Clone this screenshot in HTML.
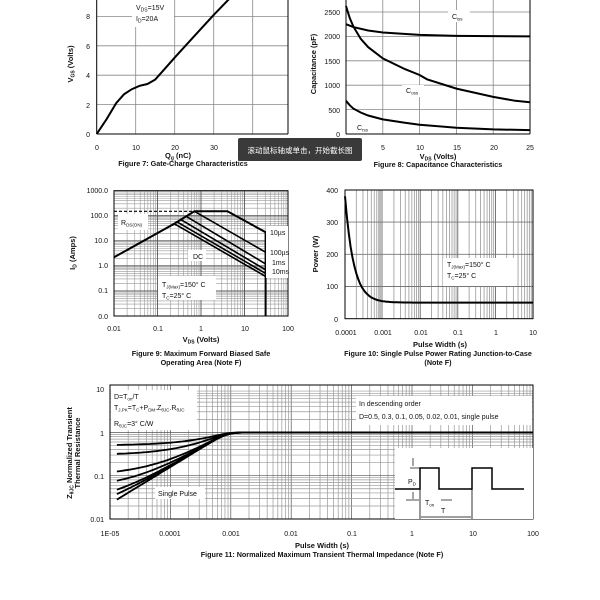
<!DOCTYPE html>
<html><head><meta charset="utf-8"><style>
html,body{margin:0;padding:0;background:#fff;width:600px;height:600px;overflow:hidden}
svg{display:block}
text{font-family:"Liberation Sans",Arial,sans-serif;fill:#111}
.t{font-size:7px}
.c{font-size:7.2px;font-weight:bold}
.al{font-size:7.5px;font-weight:bold}
</style></head><body>
<svg id="s" width="600" height="600" viewBox="0 0 600 600" xmlns="http://www.w3.org/2000/svg">
<g id="grid"></g>
<g id="curves" fill="none" stroke="#000" stroke-width="2"></g>

<!-- Fig 7 texts -->
<rect x="132" y="0" width="42" height="27" fill="#fff"/>
<text class="t" x="136" y="10">V<tspan font-size="5" dy="1.5">DS</tspan><tspan dy="-1.5">=15V</tspan></text>
<text class="t" x="136" y="21">I<tspan font-size="5" dy="1.5">D</tspan><tspan dy="-1.5">=20A</tspan></text>
<g class="t" text-anchor="end">
<text x="90" y="137">0</text><text x="90" y="108">2</text><text x="90" y="78">4</text><text x="90" y="49">6</text><text x="90" y="19">8</text>
</g>
<g class="t" text-anchor="middle">
<text x="97" y="150">0</text><text x="136" y="150">10</text><text x="175" y="150">20</text><text x="214" y="150">30</text>
</g>
<text class="al" x="178" y="158" text-anchor="middle">Q<tspan font-size="5" dy="1.5">g</tspan><tspan dy="-1.5"> (nC)</tspan></text>
<text class="c" x="183" y="166" text-anchor="middle">Figure 7: Gate-Charge Characteristics</text>
<text class="al" transform="translate(73,64) rotate(-90)" text-anchor="middle">V<tspan font-size="5" dy="1.5">GS</tspan><tspan dy="-1.5"> (Volts)</tspan></text>

<!-- Fig 8 texts -->
<rect x="448" y="10" width="22" height="12" fill="#fff"/>
<text class="t" x="452" y="19">C<tspan font-size="4.5" dy="1.5">iss</tspan></text>
<rect x="402" y="85" width="22" height="12" fill="#fff"/>
<text class="t" x="406" y="93">C<tspan font-size="4.5" dy="1.5">oss</tspan></text>
<text class="t" x="357" y="130">C<tspan font-size="4.5" dy="1.5">rss</tspan></text>
<g class="t" text-anchor="end">
<text x="340" y="137">0</text><text x="340" y="113">500</text><text x="340" y="88">1000</text><text x="340" y="64">1500</text><text x="340" y="39">2000</text><text x="340" y="15">2500</text>
</g>
<g class="t" text-anchor="middle">
<text x="383" y="150">5</text><text x="420" y="150">10</text><text x="457" y="150">15</text><text x="494" y="150">20</text><text x="530" y="150">25</text>
</g>
<text class="al" x="438" y="159" text-anchor="middle">V<tspan font-size="5" dy="1.5">DS</tspan><tspan dy="-1.5"> (Volts)</tspan></text>
<text class="c" x="438" y="167" text-anchor="middle">Figure 8: Capacitance Characteristics</text>
<text class="al" transform="translate(316,64) rotate(-90)" text-anchor="middle">Capacitance (pF)</text>

<!-- tooltip -->
<rect x="238" y="138" width="124" height="23" rx="2" fill="#3a3a3a"/>
<text x="300" y="153" text-anchor="middle" style="font-size:7.5px;fill:#fff;font-family:'Liberation Sans','Noto Sans CJK SC',sans-serif">滚动鼠标轴或单击，开始截长图</text>

<!-- Fig 9 texts -->
<rect x="118" y="214" width="30" height="16" fill="#fff"/>
<text class="t" x="121" y="225">R<tspan font-size="4.5" dy="1.5">DS(ON)</tspan></text>
<rect x="266" y="226" width="22" height="52" fill="#fff"/>
<text class="t" x="270" y="235">10µs</text>
<text class="t" x="270" y="255">100µs</text>
<text class="t" x="272" y="265">1ms</text>
<text class="t" x="272" y="274">10ms</text>
<rect x="188" y="250" width="18" height="11" fill="#fff"/>
<text class="t" x="193" y="259">DC</text>
<rect x="158" y="276" width="58" height="24" fill="#fff"/>
<text class="t" x="162" y="287">T<tspan font-size="4.5" dy="1.5">J(Max)</tspan><tspan dy="-1.5">=150° C</tspan></text>
<text class="t" x="162" y="298">T<tspan font-size="4.5" dy="1.5">C</tspan><tspan dy="-1.5">=25° C</tspan></text>
<g class="t" text-anchor="end">
<text x="108" y="193">1000.0</text><text x="108" y="218">100.0</text><text x="108" y="243">10.0</text><text x="108" y="268">1.0</text><text x="108" y="293">0.1</text><text x="108" y="319">0.0</text>
</g>
<g class="t" text-anchor="middle">
<text x="114" y="331">0.01</text><text x="158" y="331">0.1</text><text x="201" y="331">1</text><text x="245" y="331">10</text><text x="288" y="331">100</text>
</g>
<text class="al" x="201" y="342" text-anchor="middle">V<tspan font-size="5" dy="1.5">DS</tspan><tspan dy="-1.5"> (Volts)</tspan></text>
<text class="c" x="201" y="356" text-anchor="middle">Figure 9: Maximum Forward Biased Safe</text>
<text class="c" x="201" y="365" text-anchor="middle">Operating Area (Note F)</text>
<text class="al" transform="translate(75,253) rotate(-90)" text-anchor="middle">I<tspan font-size="5" dy="1.5">D</tspan><tspan dy="-1.5"> (Amps)</tspan></text>

<!-- Fig 10 texts -->
<rect x="443" y="258" width="72" height="28" fill="#fff"/>
<text class="t" x="447" y="267">T<tspan font-size="4.5" dy="1.5">J(Max)</tspan><tspan dy="-1.5">=150° C</tspan></text>
<text class="t" x="447" y="278">T<tspan font-size="4.5" dy="1.5">C</tspan><tspan dy="-1.5">=25° C</tspan></text>
<g class="t" text-anchor="end">
<text x="338" y="193">400</text><text x="338" y="225">300</text><text x="338" y="257">200</text><text x="338" y="289">100</text><text x="338" y="322">0</text>
</g>
<g class="t" text-anchor="middle">
<text x="346" y="335">0.0001</text><text x="383" y="335">0.001</text><text x="421" y="335">0.01</text><text x="458" y="335">0.1</text><text x="496" y="335">1</text><text x="533" y="335">10</text>
</g>
<text class="al" x="440" y="347" text-anchor="middle">Pulse Width (s)</text>
<text class="c" x="438" y="356" text-anchor="middle">Figure 10: Single Pulse Power Rating Junction-to-Case</text>
<text class="c" x="438" y="365" text-anchor="middle">(Note F)</text>
<text class="al" transform="translate(318,254) rotate(-90)" text-anchor="middle">Power (W)</text>

<!-- Fig 11 texts -->
<rect x="111" y="390" width="86" height="40" fill="#fff"/>
<text class="t" x="114" y="399">D=T<tspan font-size="4.5" dy="1.5">on</tspan><tspan dy="-1.5">/T</tspan></text>
<text class="t" x="114" y="410">T<tspan font-size="4.5" dy="1.5">J,PK</tspan><tspan dy="-1.5">=T</tspan><tspan font-size="4.5" dy="1.5">C</tspan><tspan dy="-1.5">+P</tspan><tspan font-size="4.5" dy="1.5">DM</tspan><tspan dy="-1.5">.Z</tspan><tspan font-size="4.5" dy="1.5">θJC</tspan><tspan dy="-1.5">.R</tspan><tspan font-size="4.5" dy="1.5">θJC</tspan></text>
<text class="t" x="114" y="426">R<tspan font-size="4.5" dy="1.5">θJC</tspan><tspan dy="-1.5">=3° C/W</tspan></text>
<rect x="356" y="396" width="176" height="29" fill="#fff"/>
<text class="t" x="359" y="406">In descending order</text>
<text class="t" x="359" y="419">D=0.5, 0.3, 0.1, 0.05, 0.02, 0.01, single pulse</text>
<rect x="155" y="487" width="50" height="12" fill="#fff"/>
<text class="t" x="158" y="496">Single Pulse</text>
<rect x="395" y="448" width="138" height="71" fill="#fff"/>
<g fill="none" stroke="#000">
<polyline stroke-width="1.5" points="395,489 420,489 420,468 439,468 439,489 472,489 472,468 492,468 492,489 524,489"/>
<line x1="420" y1="489" x2="420" y2="519" stroke-width="0.8"/>
<line x1="472" y1="489" x2="472" y2="519" stroke-width="0.8"/>
<line x1="413" y1="458" x2="413" y2="466" stroke-width="0.7"/>
<line x1="413" y1="492" x2="413" y2="499" stroke-width="0.7"/>
<line x1="410" y1="468" x2="420" y2="468" stroke-width="0.7"/>
<line x1="406" y1="500" x2="419" y2="500" stroke-width="0.7"/>
<line x1="441" y1="500" x2="452" y2="500" stroke-width="0.7"/>
<line x1="421" y1="517" x2="471" y2="517" stroke-width="0.7"/>
</g>
<text class="t" x="408" y="484">P<tspan font-size="4.5" dy="1.5">D</tspan></text>
<text class="t" x="425" y="505">T<tspan font-size="4.5" dy="1.5">on</tspan></text>
<text class="t" x="441" y="513">T</text>
<g class="t" text-anchor="end">
<text x="104" y="392">10</text><text x="104" y="436">1</text><text x="104" y="479">0.1</text><text x="104" y="522">0.01</text>
</g>
<g class="t" text-anchor="middle">
<text x="110" y="536">1E-05</text><text x="170" y="536">0.0001</text><text x="231" y="536">0.001</text><text x="291" y="536">0.01</text><text x="352" y="536">0.1</text><text x="412" y="536">1</text><text x="473" y="536">10</text><text x="533" y="536">100</text>
</g>
<text class="al" x="322" y="548" text-anchor="middle">Pulse Width (s)</text>
<text class="c" x="322" y="557" text-anchor="middle">Figure 11: Normalized Maximum Transient Thermal Impedance (Note F)</text>
<text class="al" transform="translate(72,453) rotate(-90)" text-anchor="middle">Z<tspan font-size="5" dy="1.5">θJC</tspan><tspan dy="-1.5"> Normalized Transient</tspan></text>
<text class="al" transform="translate(80,453) rotate(-90)" text-anchor="middle">Thermal Resistance</text>
</svg>
<script>
const NS="http://www.w3.org/2000/svg";
const G=document.getElementById('grid'),C=document.getElementById('curves');
function el(p,tag,a){const e=document.createElementNS(NS,tag);for(const k in a)e.setAttribute(k,a[k]);p.appendChild(e);return e;}
function ln(x1,y1,x2,y2,c,w){el(G,'line',{x1,y1,x2,y2,stroke:c,'stroke-width':w});}
function box(x1,y1,x2,y2){el(G,'rect',{x:x1,y:y1,width:x2-x1,height:y2-y1,fill:'none',stroke:'#000','stroke-width':1});}
function pl(pts,w,dash){const a={points:pts.map(p=>p[0].toFixed(1)+','+p[1].toFixed(1)).join(' '),'stroke-width':w||2};if(dash)a['stroke-dasharray']=dash;el(C,'polyline',a);}
const gc='#888';
// Fig7
for(let k=1;k<=4;k++){const x=96.7+39*k;ln(x,0,x,134,gc,0.8);}
for(let v=2;v<=8;v+=2){const y=134-14.7*v;ln(96.7,y,288,y,gc,0.8);}
ln(96.7,0,96.7,134,'#000',1);ln(96.7,134,288,134,'#000',1);ln(288,0,288,134,'#000',1);
pl([[0,0],[2.5,1],[5,2.1],[7,2.7],[9,3.05],[11,3.28],[13,3.4],[15,3.7],[17,4.3],[20,5.2],[25,6.65],[30,8.1],[34,9.2],[37,10.1]].map(p=>[96.7+3.9*p[0],134-14.7*p[1]]));
// Fig8
for(let k=1;k<=4;k++){const x=346+36.8*k;ln(x,0,x,134,gc,0.8);}
for(let c=500;c<=2500;c+=500){const y=134-0.0488*c;ln(346,y,530,y,gc,0.8);}
ln(346,0,346,134,'#000',1);ln(346,134,530,134,'#000',1);ln(530,0,530,134,'#000',1);
const f8=p=>[346+7.36*p[0],134-0.0488*p[1]];
pl([[0,2250],[1,2190],[3,2120],[5,2080],[10,2030],[15,2010],[25,2000]].map(f8));
pl([[0,2620],[0.5,2380],[1,2200],[2,1950],[3,1780],[5,1550],[8,1330],[10,1210],[11,1120],[15,930],[20,760],[23,680],[25,650]].map(f8));
pl([[0,680],[0.5,590],[1,520],[2,440],[3,380],[5,300],[8,230],[10,190],[15,130],[20,95],[25,80]].map(f8));
function loggrid(x0,x1,ndx,y0,y1,ndy,majC,minC){
 const dx=(x1-x0)/ndx, dy=(y1-y0)/ndy;
 for(let d=0;d<ndx;d++)for(let m=2;m<=9;m++){const x=x0+dx*(d+Math.log10(m));ln(x,y0,x,y1,minC,0.6);}
 for(let d=0;d<ndy;d++)for(let m=2;m<=9;m++){const y=y1-dy*(d+Math.log10(m));ln(x0,y,x1,y,minC,0.6);}
 for(let d=1;d<ndx;d++){const x=x0+dx*d;ln(x,y0,x,y1,majC,0.9);}
 for(let d=1;d<ndy;d++){const y=y1-dy*d;ln(x0,y,x1,y,majC,0.9);}
 box(x0,y0,x1,y1);
}
// Fig9
loggrid(114,288,4,190.7,316,5,'#555','#999');
const f9=p=>[114+43.6*Math.log10(p[0]/0.01),316-25.06*Math.log10(p[1]/0.01)];
pl([[0.01,150],[0.7,150]].map(f9),1.2,'3,2');
pl([[0.01,2.2],[0.24,48],[0.7,150],[4,150],[30,22],[30,0.01]].map(f9));
pl([[0.7,150],[30,3.5]].map(f9),1.6);
pl([[0.45,95],[30,1.2]].map(f9),1.6);
pl([[0.34,70],[30,0.7]].map(f9),1.6);
pl([[0.28,57],[30,0.5]].map(f9),1.6);
pl([[0.24,48],[30,0.38]].map(f9),1.6);
// Fig10
{const x0=345,x1=533,y0=190,y1=318.7;const dx=(x1-x0)/5;
 for(let d=0;d<5;d++)for(let m=1;m<=9;m++){const x=x0+dx*(d+Math.log10(m));ln(x,y0,x,y1,m==1?'#555':'#999',0.8);}
 el(G,'rect',{x:378,y:y0,width:5,height:y1-y0,fill:'#bbb'});
 for(let v=100;v<=300;v+=100){const y=y1-0.322*v;ln(x0,y,x1,y,'#777',0.9);}
 box(x0,y0,x1,y1);
 const pts=[];for(let i=0;i<=100;i++){const lt=-4+5*i/100;const P=50+330*Math.exp(-(lt+4)*4.3);pts.push([x0+dx*(lt+4),y1-0.322*P]);}
 pl(pts,2);}
// Fig11
{const x0=110,x1=533,y0=385,y1=519;const dx=60.4,dy=43.3;
 const X=t=>110+dx*(Math.log10(t)+5), Y=z=>519-dy*(Math.log10(z)+2);
 for(let d=-5;d<2;d++)for(let m=1;m<=9;m++){const x=X(m*Math.pow(10,d));if(x>x0+0.5&&x<x1-0.5)ln(x,y0,x,y1,m==1?'#555':'#999',0.7);}
 for(let d=-2;d<1;d++)for(let m=1;m<=9;m++){const y=Y(m*Math.pow(10,d));if(y>y0&&y<y1)ln(x0,y,x1,y,m==1?'#555':'#999',0.7);}
 box(x0,y0,x1,y1);
 const zsp=t=>{const r=Math.pow(t/8.7e-4,0.85);return r/Math.pow(1+Math.pow(r,6),1/6);};
 const t0=1.3e-5;
 [0.5,0.3,0.1,0.05,0.02,0.01,0].forEach(D=>{const pts=[];for(let i=0;i<=140;i++){const lt=Math.log10(t0)+(2-Math.log10(t0))*i/140;const t=Math.pow(10,lt);let z=D+(1-D)*zsp(t);z=Math.min(z,1);pts.push([X(t),Y(z)]);}pl(pts,1.8);});
}
const s=document.getElementById('s');
const kids=[...s.children].filter(e=>e.id!=='grid'&&e.id!=='curves');
kids.forEach(k=>s.appendChild(k));
</script>
</body></html>
